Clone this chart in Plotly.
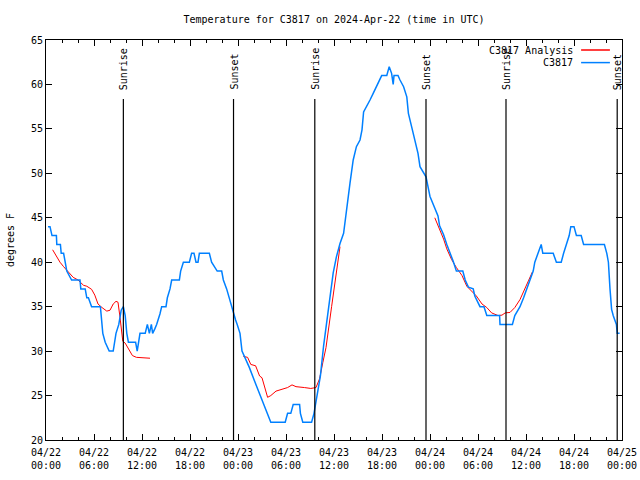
import pandas as pd
import plotly.graph_objects as go

base = pd.Timestamp("2024-04-22 00:00")

# Observations (C3817): hours after 2024-04-22 00:00 UTC, degrees F
obs_hours = [0.25, 0.5, 0.75, 1.3, 1.35, 1.8, 1.9, 2.2, 2.4, 2.6, 3.2, 4.25, 4.35, 4.9, 5.1, 5.3,
             5.7, 6.8, 6.9, 7.1, 7.4, 7.9, 8.4, 8.75, 9.1, 9.4, 9.67, 9.9, 10.1, 10.3, 11.2, 11.4,
             11.75, 12.4, 12.67, 12.92, 13.17, 13.33, 13.6, 13.83, 14.25, 14.46, 15.0, 15.17, 15.5,
             15.71, 16.67, 16.83, 17.17, 17.92, 18.2, 18.5, 18.75, 19.0, 19.17, 20.42, 20.7, 21.4,
             21.96, 22.17, 22.58, 22.9, 23.2, 23.45, 23.7, 23.9, 24.25, 24.5, 25.4, 26.3, 27.1,
             27.7, 28.1, 29.9, 30.2, 30.6, 30.9, 31.7, 31.8, 32.1, 33.2, 33.5, 33.9, 34.3, 34.7,
             35.5, 35.9, 36.3, 36.75, 37.2, 37.6, 38.0, 38.4, 38.8, 39.25, 39.5, 39.7, 40.1, 40.5,
             40.9, 41.3, 41.75, 41.96, 42.6, 42.9, 43.2, 43.4, 43.5, 44.0, 44.25, 44.7, 45.1, 45.3,
             45.7, 46.1, 46.5, 46.75, 47.2, 47.5, 48.0, 48.4, 49.0, 49.2, 49.7, 50.1, 50.5, 50.9,
             51.3, 52.1, 52.4, 52.8, 53.4, 53.6, 54.25, 54.75, 55.1, 56.7, 56.75, 58.3, 58.6, 59.25,
             59.7, 60.1, 60.5, 60.9, 61.1, 61.5, 61.9, 62.1, 63.4, 63.8, 64.4, 64.7, 65.1, 65.4,
             65.6, 66.0, 66.3, 66.9, 67.2, 69.8, 70.1, 70.3, 70.5, 70.7, 70.9, 71.3, 71.4, 71.7]
obs_temps = [44, 44, 43, 43, 42, 42, 41, 41, 40, 39, 38, 38, 37, 37, 36, 36,
             35, 35, 34, 32, 31, 30, 30, 32, 33, 34.6, 35, 34, 32, 31, 31, 30,
             32, 32, 33, 32, 33, 32, 32.5, 33, 34.2, 35, 35, 36, 37,
             38, 38, 39, 40, 40, 41, 41, 40, 40, 41, 41, 40, 39,
             39, 38, 37, 36, 35, 34, 33.5, 33, 32, 30, 28.2, 26.1, 24.2,
             23, 22, 22, 23, 23, 24, 24, 23, 22, 22, 23, 25, 27.2, 30.6,
             35.9, 38.8, 40.6, 42.1, 43.25, 46.25, 48.9, 51.5, 53, 53.75, 54.9, 56.9, 57.5, 58.25,
             59, 59.75, 60.5, 61, 61, 62, 61.25, 60, 61, 61, 60.5, 59.75, 58.6, 56.75,
             55.25, 53.75, 52.25, 50.75, 50, 49.6, 47.4, 46.6, 45.2, 44.1, 43.1, 42, 41.1, 40.1,
             39, 39, 38, 37.2, 37, 36.2, 35, 35, 34, 34, 33, 33, 34, 35,
             36, 37, 38, 39, 40, 41, 42, 41, 41, 40, 40, 41, 42, 43,
             44, 44, 43, 43, 42, 42, 41, 40, 37, 34.7, 34, 33, 32, 32]

# Analysis (C3817 Analysis): None marks a gap
ana_hours = [0.83, 1.33, 1.75, 2.2, 2.8, 3.4, 4.0, 4.7, 5.1, 5.7, 6.1, 6.5, 7.0, 7.6, 8.0, 8.4,
             8.75, 9.0, 9.25, 9.6, 9.9, 10.3, 10.8, 11.3, 13.0, None,
             24.67, 25.2, 25.6, 26.2, 26.7, 27.0, 27.7, 28.1, 28.75, 29.6, 30.2, 30.75, 31.25,
             32.3, 33.1, 33.75, 34.2, 34.6, 35.0, 35.7, 36.3, 36.75, None,
             48.6, 49.25, 49.7, 50.1, 50.7, 51.3, 52.0, 52.6, 53.2, 53.8, 54.5, 55.1, 55.7, 56.5,
             57.0, 57.4, 58.0, 58.6, 59.25, 59.9, 60.3, 60.8]
ana_temps = [41.4, 40.6, 40, 39.5, 38.9, 38.3, 38, 37.4, 37.3, 36.95, 36.3, 35.3, 34.9, 34.5, 34.6, 35.3,
             35.6, 35.5, 33.8, 31.1, 30.9, 30.3, 29.5, 29.3, 29.2, None,
             29.4, 29.3, 28.5, 28.35, 27.2, 27, 24.8, 25, 25.5, 25.7, 25.9, 26.2, 26.0,
             25.9, 25.8, 25.9, 26.9, 28.7, 30.4, 35, 38.75, 41.75, None,
             45, 43.7, 42.6, 41.5, 40.3, 39.4, 38.5, 37.3, 36.8, 36.2, 35.3, 34.9, 34.3, 34.0,
             34.05, 34.3, 34.35, 34.9, 35.8, 37, 37.9, 38.9]

# Sunrise / sunset events
event_hours = [9.67, 23.44, 33.6, 47.5, 57.5, 71.4]
event_labels = ["Sunrise", "Sunset", "Sunrise", "Sunset", "Sunrise", "Sunset"]

tick_hours = [0, 6, 12, 18, 24, 30, 36, 42, 48, 54, 60, 66, 72]
tick_labels = ["04/22<br>00:00", "04/22<br>06:00", "04/22<br>12:00", "04/22<br>18:00",
               "04/23<br>00:00", "04/23<br>06:00", "04/23<br>12:00", "04/23<br>18:00",
               "04/24<br>00:00", "04/24<br>06:00", "04/24<br>12:00", "04/24<br>18:00",
               "04/25<br>00:00"]
y_ticks = [20, 25, 30, 35, 40, 45, 50, 55, 60, 65]


def to_time(h):
    return None if h is None else base + pd.Timedelta(hours=h)


RED = "#ff0000"
BLUE = "#0080ff"
FONT = "DejaVu Sans Mono"

fig = go.Figure()
fig.add_trace(go.Scatter(x=[to_time(h) for h in ana_hours], y=ana_temps, mode="lines",
                         line=dict(color=RED, width=1), name="C3817 Analysis",
                         connectgaps=False))
fig.add_trace(go.Scatter(x=[to_time(h) for h in obs_hours], y=obs_temps, mode="lines",
                         line=dict(color=BLUE, width=1.5), name="C3817"))

shapes = []
annotations = []
for h, lab in zip(event_hours, event_labels):
    shapes.append(dict(type="line", xref="x", yref="paper", x0=to_time(h), x1=to_time(h),
                       y0=0, y1=0.8525, line=dict(color="black", width=1.2)))
    annotations.append(dict(x=to_time(h), xref="x", y=0.87, yref="paper", text=lab,
                            textangle=-90, showarrow=False, xanchor="center", yanchor="bottom",
                            font=dict(family=FONT, size=10, color="black")))

# legend (gnuplot style: text right-aligned, sample line on right)
leg = [("C3817 Analysis", RED, 0.975), ("C3817", BLUE, 0.9435)]
for name, col, yy in leg:
    annotations.append(dict(x=0.919, xref="paper", y=yy, yref="paper", text=name,
                            showarrow=False, xanchor="right", yanchor="middle",
                            font=dict(family=FONT, size=10, color="black")))
    shapes.append(dict(type="line", xref="paper", yref="paper", x0=0.929, x1=0.979,
                       y0=yy, y1=yy, line=dict(color=col, width=1.5)))

fig.update_layout(
    width=640, height=480,
    margin=dict(l=46, r=18, t=40, b=40),
    plot_bgcolor="white", paper_bgcolor="white",
    font=dict(family=FONT, size=10, color="black"),
    showlegend=False,
    title=dict(text="Temperature for C3817 on 2024-Apr-22 (time in UTC)",
               x=0.5, xref="paper", xanchor="center",
               y=1 - 19 / 480, yref="container", yanchor="middle",
               font=dict(family=FONT, size=10, color="black")),
    shapes=shapes, annotations=annotations,
)
fig.update_xaxes(range=[to_time(0), to_time(72)], tickvals=[to_time(h) for h in tick_hours],
                 ticktext=tick_labels, ticks="inside", ticklen=6, tickcolor="black",
                 showline=True, linecolor="black", linewidth=1, mirror="allticks",
                 showgrid=False, zeroline=False, ticklabelstandoff=3, automargin=False,
                 minor=dict(dtick=2 * 3600 * 1000, tick0=to_time(0), ticks="inside",
                            ticklen=3, tickcolor="black", showgrid=False))
fig.update_yaxes(range=[20, 65], tickvals=y_ticks, ticks="inside", ticklen=6,
                 tickcolor="black", showline=True, linecolor="black", linewidth=1,
                 mirror="allticks", showgrid=False, zeroline=False, automargin=False,
                 title=dict(text="degrees F", standoff=14,
                            font=dict(family=FONT, size=10, color="black")))

fig.write_html("out.html", config={"displayModeBar": False},
               post_script="document.body.style.margin='0px';document.body.style.padding='0px';")
